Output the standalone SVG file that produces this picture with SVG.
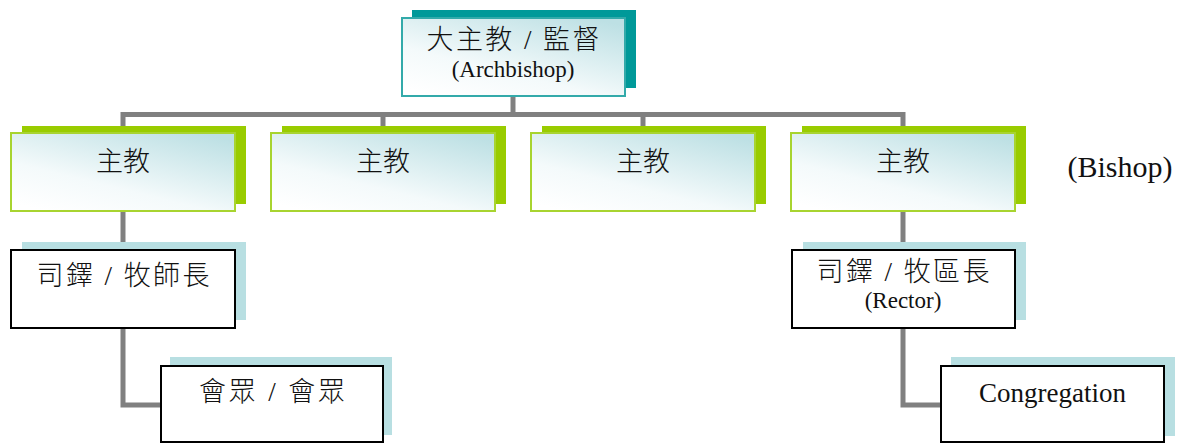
<svg xmlns="http://www.w3.org/2000/svg" width="1191" height="444" viewBox="0 0 1191 444">
<defs>
<linearGradient id="gr" x1="0.15" y1="1" x2="0.85" y2="0">
<stop offset="0" stop-color="#ffffff"/>
<stop offset="0.35" stop-color="#f4fafb"/>
<stop offset="1" stop-color="#bde0e4"/>
</linearGradient>
<style>
.conn{fill:none;stroke:#808080;stroke-width:5}
.shT{fill:#009999}
.shG{fill:#99cc00}
.shB{fill:#b8dfe2}
.bxT{fill:url(#gr);stroke:#33aaaa;stroke-width:2}
.bxG{fill:url(#gr);stroke:#a8d430;stroke-width:2}
.bxW{fill:#ffffff;stroke:#000000;stroke-width:2}
.cjk{font-family:"Liberation Serif","Noto Sans CJK TC",serif;font-size:27px;font-weight:300;fill:#111111;text-anchor:middle}
.en{font-family:"Liberation Serif","Times New Roman",serif;fill:#111111;text-anchor:middle}
</style>
</defs>
<rect width="1191" height="444" fill="#ffffff"/>
<g id="connectors">
<path class="conn" d="M513,97 V114.5"/>
<path class="conn" d="M123,133 V114.5 H903 V133"/>
<path class="conn" d="M383,114.5 V133"/>
<path class="conn" d="M643,114.5 V133"/>
<path class="conn" d="M123,211 V250"/>
<path class="conn" d="M903,211 V250"/>
<path class="conn" d="M123,329 V405 H161"/>
<path class="conn" d="M903,329 V405 H941"/>
</g>
<g id="archbishop">
<rect class="shT" x="412" y="10" width="224" height="78"/>
<rect class="bxT" x="402" y="18" width="223" height="78"/>
<text class="cjk" x="513" y="49" textLength="173" lengthAdjust="spacing" xml:space="preserve">大主教 / 監督</text>
<text class="en" x="513" y="77" font-size="23">(Archbishop)</text>
</g>
<g id="bishop1">
<rect class="shG" x="22" y="126" width="224" height="78"/>
<rect class="bxG" x="11" y="133" width="224" height="78"/>
<text class="cjk" x="123" y="171">主教</text>
</g>
<g id="bishop2">
<rect class="shG" x="282" y="126" width="224" height="78"/>
<rect class="bxG" x="271" y="133" width="224" height="78"/>
<text class="cjk" x="383" y="171">主教</text>
</g>
<g id="bishop3">
<rect class="shG" x="542" y="126" width="224" height="78"/>
<rect class="bxG" x="531" y="133" width="224" height="78"/>
<text class="cjk" x="643" y="171">主教</text>
</g>
<g id="bishop4">
<rect class="shG" x="802" y="126" width="224" height="78"/>
<rect class="bxG" x="791" y="133" width="224" height="78"/>
<text class="cjk" x="903" y="171">主教</text>
</g>
<g id="bishop-label">
<text class="en" x="1120" y="177" font-size="30">(Bishop)</text>
</g>
<g id="rector-left">
<rect class="shB" x="22" y="242" width="224" height="78"/>
<rect class="bxW" x="11" y="250" width="224" height="78"/>
<text class="cjk" x="123" y="285" textLength="173" lengthAdjust="spacing" xml:space="preserve">司鐸 / 牧師長</text>
</g>
<g id="rector-right">
<rect class="shB" x="803" y="242" width="223" height="78"/>
<rect class="bxW" x="792" y="250" width="223" height="78"/>
<text class="cjk" x="903" y="281" textLength="173" lengthAdjust="spacing" xml:space="preserve">司鐸 / 牧區長</text>
<text class="en" x="903" y="308" font-size="23">(Rector)</text>
</g>
<g id="congregation-left">
<rect class="shB" x="170" y="357" width="222" height="78"/>
<rect class="bxW" x="161" y="366" width="222" height="76"/>
<text class="cjk" x="272" y="401" textLength="146" lengthAdjust="spacing" xml:space="preserve">會眾 / 會眾</text>
</g>
<g id="congregation-right">
<rect class="shB" x="951" y="357" width="224" height="79"/>
<rect class="bxW" x="941" y="366" width="223" height="76"/>
<text class="en" x="1052.5" y="402" font-size="27">Congregation</text>
</g>
</svg>
